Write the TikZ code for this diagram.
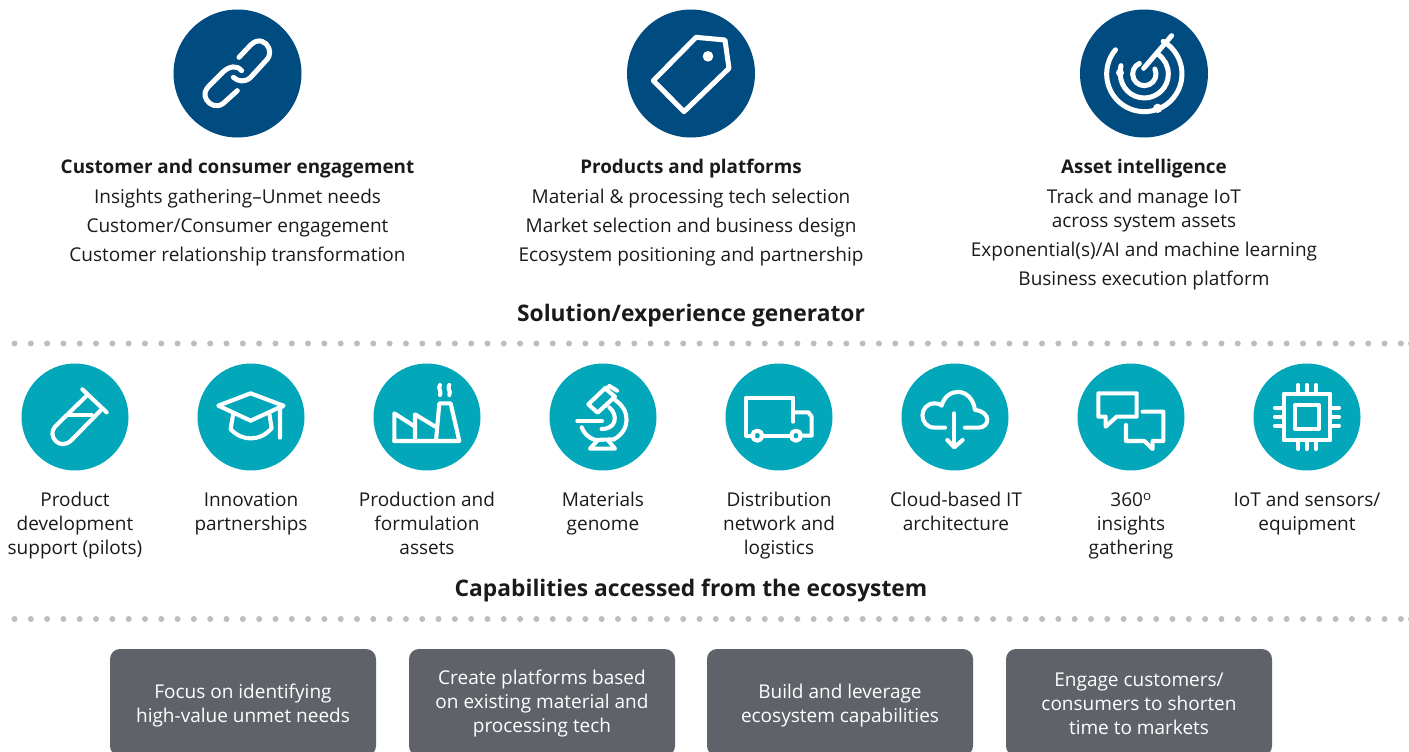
\documentclass[tikz,border=0pt]{standalone}
\usepackage{fontspec}
\setmainfont{Open Sans}
\definecolor{navy}{HTML}{004B7F}
\definecolor{teal2}{HTML}{02A8B9}
\definecolor{boxgrey}{HTML}{5F6369}
\definecolor{dotgrey}{HTML}{BDBDBD}
\definecolor{ink}{HTML}{1A1A1A}
\tikzset{
  bigcirc/.style={circle,fill=navy,minimum size=128pt,inner sep=0pt},
  smallcirc/.style={circle,fill=teal2,minimum size=107pt,inner sep=0pt},
  ico/.style={draw=white,line width=5pt,line cap=round,line join=round},
  icos/.style={draw=white,line width=4.1pt,line cap=round,line join=round},
  body/.style={text=ink,align=center,inner sep=0pt,anchor=north,font=\fontsize{19}{24}\selectfont},
  head/.style={text=ink,inner sep=0pt,font=\fontsize{22.8}{28}\bfseries\selectfont},
  card/.style={rounded corners=10pt,fill=boxgrey,draw=none},
  cardtext/.style={text=white,align=center,inner sep=0pt,font=\fontsize{19}{24}\selectfont},
  dot/.style={fill=dotgrey,draw=none}
}
\newcommand{\ttl}[1]{{\fontsize{18.85}{24}\bfseries\selectfont #1}}
\begin{document}
\begin{tikzpicture}[x=1pt,y=-1pt]
\useasboundingbox (0,0) rectangle (1409,752);
% big circles
\node[bigcirc] (c1) at (237.5,73.5) {};
\node[bigcirc] (c2) at (691,73.5) {};
\node[bigcirc] (c3) at (1144,73.5) {};
% chain
\begin{scope}[shift={(160,0)},x=0.3333pt,y=-0.3333pt]
\draw[ico] (237,172) -- (272,135) .. controls (295,112) and (320,125) .. (327,145) .. controls (333,165) and (325,175) .. (315,185) -- (272,232) .. controls (255,248) and (235,245) .. (220,232);
\draw[ico] (232,272) -- (190,310) .. controls (170,325) and (150,315) .. (140,300) .. controls (130,285) and (135,270) .. (147,258) -- (190,215) .. controls (210,198) and (230,195) .. (245,212);
\end{scope}
% tag
\begin{scope}[shift={(610,0)},x=0.3333pt,y=-0.3333pt]
\draw[ico] (258,112) -- (345,120) -- (357,205) -- (222,335) -- (130,242) -- cycle;
\fill[white] (294,169) circle[radius=16];
\end{scope}
% radar
\begin{scope}[shift={(1065,0)},x=0.3333pt,y=-0.3333pt]
\draw[ico] (238,222)+(220:113) arc[start angle=220,end angle=-60,radius=113];
\draw[ico] (238,222)+(180:72) arc[start angle=180,end angle=-55,radius=72];
\draw[ico] (238,222)+(245:35) arc[start angle=245,end angle=-25,radius=35];
\draw[ico] (320,107) -- (236,205);
\draw[ico] (168,197) -- (165,215);
\fill[white] (165,218) circle[radius=12];
\fill[white] (278,325) circle[radius=14];
\end{scope}
% texts top
\node[body] (t1) at (237.5,159) {\ttl{Customer and consumer engagement}\\[6pt]Insights gathering–Unmet needs\\[5pt]Customer/Consumer engagement\\[5pt]Customer relationship transformation};
\node[body] (t2) at (691,159) {\ttl{Products and platforms}\\[6pt]Material \& processing tech selection\\[5pt]Market selection and business design\\[5pt]Ecosystem positioning and partnership};
\node[body] (t3) at (1144,159) {\ttl{Asset intelligence}\\[6pt]Track and manage IoT\\across system assets\\[5pt]Exponential(s)/AI and machine learning\\[5pt]Business execution platform};
\node[head] (h1) at (691,316) {Solution/experience generator};
\node[head] (h2) at (691,591) {Capabilities accessed from the ecosystem};
% dots
\foreach \i in {0,...,85}{
  \fill[dot] ({14.5+16.31*\i},343.5) circle[radius=3];
  \fill[dot] ({14.5+16.31*\i},619) circle[radius=3];
}
\fill[dot] (1411,343.5) circle[radius=3];
\fill[dot] (1411,619) circle[radius=3];
% small circles
\node[smallcirc] (s1) at (75,417) {};
\node[smallcirc] (s2) at (251,417) {};
\node[smallcirc] (s3) at (427,417) {};
\node[smallcirc] (s4) at (603,417) {};
\node[smallcirc] (s5) at (779,417) {};
\node[smallcirc] (s6) at (955,417) {};
\node[smallcirc] (s7) at (1131,417) {};
\node[smallcirc] (s8) at (1307,417) {};
% tube and cap
\begin{scope}[shift={(0,330)},x=0.3333pt,y=-0.3333pt]
\draw[icos] (247,178) -- (320,247);
\draw[icos] (262,195) -- (165,290) .. controls (140,318) and (180,365) .. (215,330) -- (303,240);
\draw[icos] (205,255) -- (275,255);
\draw[icos] (655,227) -- (752,190) -- (850,227) -- (752,272) -- cycle;
\draw[icos] (850,227) -- (840,235) -- (840,323);
\draw[icos] (700,250) -- (692,297) .. controls (725,335) and (780,335) .. (815,295) -- (808,250);
\end{scope}
% factory and microscope
\begin{scope}[shift={(360,355)},x=0.3333pt,y=-0.3333pt]
\draw[icos] (103,258) -- (298,258) -- (272,145) -- (238,145) -- (228,258);
\draw[icos] (103,258) -- (103,175) -- (165,215) -- (165,258);
\draw[icos] (165,215) -- (165,178) -- (226,215);
\draw[icos] (240,90) .. controls (232,100) and (246,108) .. (240,120);
\draw[icos] (268,90) .. controls (260,100) and (274,108) .. (268,120);
\draw[icos] (685,148) -- (735,100) -- (765,125) -- (713,173) -- cycle;
\draw[icos] (748,93) -- (771,107);
\draw[icos] (745,97) -- (735,100);
\draw[icos] (652,198) -- (726,198);
\draw[icos] (765,135) .. controls (812,165) and (812,225) .. (762,253);
\draw[icos] (748,157) .. controls (775,180) and (770,222) .. (725,222);
\draw[icos] (665,217) .. controls (672,235) and (685,248) .. (705,255);
\draw[icos] (705,255) -- (762,253);
\draw[icos] (712,257) -- (690,281) -- (765,281) -- (745,257);
\end{scope}
% truck and cloud
\begin{scope}[shift={(715,355)},x=0.3333pt,y=-0.3333pt]
\draw[icos] (115,242) -- (93,242) -- (93,128) -- (235,128) -- (235,200);
\draw[icos] (140,242) -- (230,242);
\draw[icos] (255,242) -- (290,242) -- (290,185) -- (280,172) -- (235,172);
\draw[icos] (127,242) circle[radius=15];
\draw[icos] (243,242) circle[radius=15];
\draw[icos] (690,218) -- (660,218) .. controls (610,218) and (610,145) .. (660,145) .. controls (670,145) and (675,148) .. (680,152) .. controls (695,95) and (770,95) .. (780,165) .. controls (830,170) and (825,218) .. (790,218) -- (750,218);
\draw[icos] (718,175) -- (718,275);
\draw[icos] (697,255) -- (718,277) -- (743,255);
\end{scope}
% chat and chip
\begin{scope}[shift={(1065,355)},x=0.3333pt,y=-0.3333pt]
\draw[icos] (100,115) -- (215,115) -- (215,185) -- (155,185) -- (122,215) -- (122,185) -- (100,185) -- cycle;
\draw[icos] (233,170) -- (295,170) -- (295,258) -- (263,258) -- (263,282) -- (238,258) -- (183,258) -- (183,210);
\draw[icos] (656,116) rectangle (796,256);
\draw[icos] (690,150) rectangle (762,222);
\foreach \p in {700,725,752}{
  \draw[icos] (\p,90) -- (\p,116);
  \draw[icos] (\p,256) -- (\p,282);
}
\foreach \p in {158,185,212}{
  \draw[icos] (630,\p) -- (656,\p);
  \draw[icos] (796,\p) -- (822,\p);
}
\end{scope}
% captions
\node[body] (l1) at (75,492) {Product\\development\\support (pilots)};
\node[body] (l2) at (251,492) {Innovation\\partnerships};
\node[body] (l3) at (427,492) {Production and\\formulation\\assets};
\node[body] (l4) at (603,492) {Materials\\genome};
\node[body] (l5) at (779,492) {Distribution\\network and\\logistics};
\node[body] (l6) at (956,492) {Cloud-based IT\\architecture};
\node[body] (l7) at (1131,493) {360\smash{\textsuperscript{o}}\\insights\\gathering};
\node[body] (l8) at (1307,492) {IoT and sensors/\\equipment};
% cards
\fill[card] (110,649) rectangle (376,756);
\fill[card] (409,649) rectangle (675,756);
\fill[card] (707,649) rectangle (973,756);
\fill[card] (1006,649) rectangle (1272,756);
\node[cardtext] (k1) at (243,706) {Focus on identifying\\high-value unmet needs};
\node[cardtext] (k2) at (542,704) {Create platforms based\\on existing material and\\processing tech};
\node[cardtext] (k3) at (840,706) {Build and leverage\\ecosystem capabilities};
\node[cardtext] (k4) at (1139,704) {Engage customers/\\consumers to shorten\\time to markets};
\end{tikzpicture}
\end{document}
